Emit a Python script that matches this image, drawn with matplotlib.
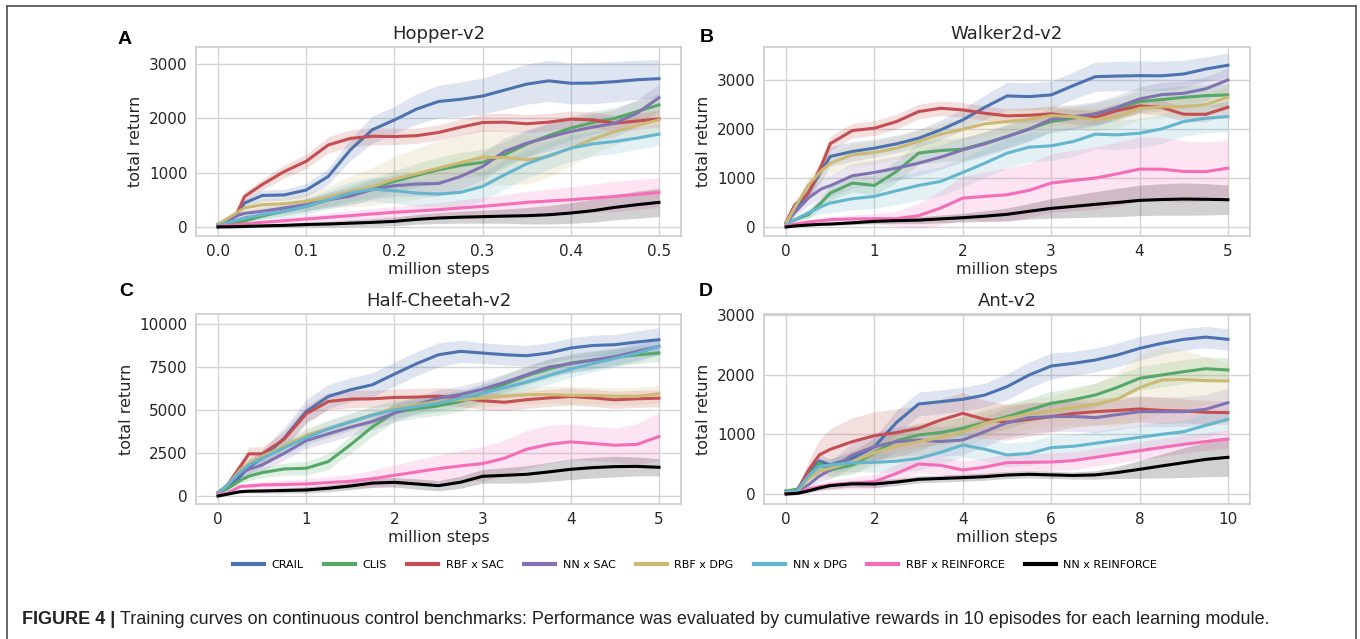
import matplotlib

matplotlib.use("Agg")
import matplotlib.pyplot as plt
from matplotlib.lines import Line2D

plt.rcParams["font.family"] = "DejaVu Sans"

# ---- series names / colours (legend order) ----
labels = ["CRAIL", "CLIS", "RBF x SAC", "NN x SAC", "RBF x DPG", "NN x DPG",
          "RBF x REINFORCE", "NN x REINFORCE"]
colors = ["#4C72B0", "#55A868", "#C44E52", "#8172B2", "#CCB974", "#64B5CD",
          "#F56DB8", "#000000"]

# ---- A: Hopper-v2 ----
hop_x = [0, 0.02, 0.03, 0.05, 0.075, 0.1, 0.125, 0.15, 0.175, 0.2, 0.225, 0.25,
         0.275, 0.3, 0.325, 0.35, 0.375, 0.4, 0.425, 0.45, 0.475, 0.5]
hop_crail = [0, 200, 440, 580, 590, 680, 930, 1420, 1790, 1970, 2170, 2310,
             2350, 2410, 2520, 2630, 2690, 2645, 2650, 2675, 2710, 2730]
hop_clis = [50, 80, 110, 200, 290, 380, 500, 620, 716, 840, 950, 1053,
            1133, 1190, 1330, 1525, 1684, 1820, 1923, 2000, 2125, 2247]
hop_rbf_sac = [30, 200, 560, 780, 1020, 1210, 1510, 1630, 1670, 1665, 1680, 1740,
               1837, 1923, 1930, 1900, 1930, 1985, 1970, 1910, 1950, 1990]
hop_nn_sac = [50, 200, 250, 290, 350, 410, 500, 570, 690, 760, 790, 800,
              930, 1114, 1390, 1543, 1653, 1757, 1837, 1910, 2094, 2380]
hop_rbf_dpg = [50, 250, 350, 410, 430, 471, 550, 655, 747, 882, 980, 1084,
               1188, 1280, 1280, 1237, 1298, 1451, 1617, 1757, 1868, 1972]
hop_nn_dpg = [30, 120, 170, 227, 290, 380, 502, 625, 698, 667, 625, 606,
              637, 747, 961, 1163, 1310, 1451, 1531, 1574, 1635, 1708]
hop_rbf_rf = [10, 40, 55, 86, 115, 147, 178, 208, 240, 270, 295, 318,
              350, 380, 415, 453, 478, 502, 530, 563, 600, 637]
hop_nn_rf = [0, 5, 10, 20, 30, 45, 55, 70, 85, 104, 140, 165,
             180, 190, 200, 208, 225, 257, 300, 361, 410, 453]
hop_crail_sd = [30, 60, 80, 100, 100, 120, 150, 200, 250, 250, 280, 300,
                320, 330, 350, 370, 380, 380, 380, 370, 360, 350]
hop_clis_sd = [20, 30, 40, 60, 80, 100, 120, 150, 180, 200, 220, 230,
               240, 240, 240, 240, 230, 220, 210, 200, 200, 200]
hop_rbf_sac_sd = [30, 60, 80, 100, 120, 130, 150, 160, 160, 150, 140, 140,
                  150, 160, 170, 170, 160, 150, 150, 150, 150, 150]
hop_nn_sac_sd = [20, 50, 60, 80, 100, 120, 140, 160, 180, 200, 220, 230,
                 240, 250, 250, 250, 250, 250, 250, 250, 250, 250]
hop_rbf_dpg_sd = [20, 60, 80, 100, 120, 150, 200, 280, 350, 420, 470, 500,
                  520, 520, 500, 450, 380, 320, 280, 250, 230, 220]
hop_nn_dpg_sd = [20, 40, 60, 80, 120, 150, 180, 200, 220, 230, 240, 250,
                 260, 270, 270, 260, 250, 240, 230, 220, 210, 200]
hop_rbf_rf_sd = [10, 20, 30, 40, 60, 70, 80, 90, 100, 110, 120, 130,
                 150, 160, 180, 200, 220, 240, 260, 280, 280, 270]
hop_nn_rf_sd = [5, 10, 15, 20, 30, 40, 50, 60, 70, 80, 90, 100,
                110, 120, 130, 150, 170, 190, 210, 230, 250, 260]

# ---- B: Walker2d-v2 ----
wal_x = [0, 0.1, 0.25, 0.4, 0.5, 0.75, 1.0, 1.25, 1.5, 1.75, 2.0, 2.25,
         2.5, 2.75, 3.0, 3.25, 3.5, 3.75, 4.0, 4.25, 4.5, 4.75, 5.0]
wal_crail = [80, 350, 700, 1150, 1439, 1541, 1609, 1697, 1812, 1982, 2185, 2443,
             2674, 2661, 2695, 2885, 3068, 3080, 3088, 3085, 3122, 3224, 3300]
wal_clis = [80, 150, 250, 500, 692, 896, 848, 1133, 1507, 1561, 1588, 1710,
            1846, 2002, 2152, 2220, 2308, 2403, 2559, 2600, 2647, 2680, 2695]
wal_rbf_sac = [100, 455, 680, 1250, 1700, 1968, 2016, 2152, 2355, 2423, 2389, 2321,
               2267, 2280, 2308, 2250, 2240, 2376, 2471, 2440, 2301, 2300, 2443]
wal_nn_sac = [80, 300, 590, 780, 842, 1045, 1113, 1201, 1303, 1425, 1575, 1697,
              1846, 1995, 2199, 2250, 2308, 2443, 2613, 2700, 2729, 2820, 3000]
wal_rbf_dpg = [80, 400, 850, 1150, 1303, 1473, 1520, 1609, 1744, 1894, 1995, 2104,
               2152, 2199, 2274, 2250, 2186, 2253, 2423, 2450, 2457, 2500, 2647]
wal_nn_dpg = [50, 150, 285, 420, 489, 577, 624, 740, 848, 930, 1113, 1303,
              1507, 1629, 1656, 1744, 1894, 1880, 1914, 2002, 2152, 2220, 2253]
wal_rbf_rf = [20, 60, 100, 130, 149, 165, 170, 170, 231, 387, 590, 624,
              658, 747, 896, 950, 998, 1086, 1181, 1180, 1133, 1130, 1201]
wal_nn_rf = [0, 20, 40, 55, 60, 85, 115, 130, 140, 165, 190, 220,
             258, 320, 380, 420, 462, 500, 543, 560, 570, 565, 556]
wal_crail_sd = [20, 80, 150, 200, 200, 200, 180, 180, 180, 200, 220, 250,
                280, 280, 280, 280, 300, 300, 300, 300, 280, 250, 250]
wal_clis_sd = [20, 50, 80, 120, 150, 180, 200, 220, 230, 230, 230, 230,
               230, 230, 230, 230, 230, 230, 230, 230, 230, 230, 230]
wal_rbf_sac_sd = [20, 80, 120, 150, 150, 150, 150, 150, 150, 150, 150, 150,
                  150, 150, 150, 150, 150, 150, 150, 150, 150, 150, 150]
wal_nn_sac_sd = [20, 80, 150, 200, 220, 250, 250, 250, 250, 250, 250, 250,
                 250, 250, 250, 250, 250, 250, 250, 250, 250, 250, 250]
wal_rbf_dpg_sd = [20, 80, 150, 200, 220, 230, 230, 230, 230, 230, 230, 230,
                  230, 230, 230, 230, 230, 230, 230, 230, 230, 230, 230]
wal_nn_dpg_sd = [20, 50, 100, 150, 200, 230, 250, 280, 300, 300, 300, 300,
                 300, 300, 300, 300, 300, 300, 300, 300, 300, 300, 300]
wal_rbf_rf_sd = [10, 30, 50, 60, 70, 80, 100, 150, 250, 350, 450, 500,
                 550, 550, 600, 620, 640, 650, 650, 650, 630, 600, 580]
wal_nn_rf_sd = [5, 10, 20, 25, 30, 40, 50, 60, 70, 80, 90, 110,
                130, 160, 200, 230, 260, 290, 310, 320, 330, 320, 300]

# ---- C: Half-Cheetah-v2 ----
che_x = [0, 0.1, 0.25, 0.35, 0.5, 0.75, 1.0, 1.25, 1.5, 1.75, 2.0, 2.25,
         2.5, 2.75, 3.0, 3.25, 3.5, 3.75, 4.0, 4.25, 4.5, 4.75, 5.0]
che_crail = [200, 500, 1126, 1700, 2194, 3359, 4913, 5786, 6175, 6466, 7087, 7689,
             8213, 8408, 8311, 8213, 8155, 8311, 8602, 8750, 8796, 8950, 9087]
che_clis = [200, 400, 900, 1150, 1359, 1573, 1612, 2000, 2971, 4019, 4854, 5068,
            5243, 5495, 5981, 6505, 6990, 7379, 7728, 7900, 8078, 8200, 8311]
che_rbf_sac = [200, 600, 1700, 2450, 2450, 3301, 4777, 5495, 5631, 5650, 5728, 5750,
               5800, 5700, 5534, 5450, 5600, 5700, 5786, 5700, 5592, 5650, 5689]
che_nn_sac = [200, 600, 1300, 1550, 1806, 2485, 3223, 3612, 4000, 4330, 4816, 5301,
              5689, 5903, 6214, 6602, 7049, 7500, 7689, 7900, 8100, 8400, 8699]
che_rbf_dpg = [200, 600, 1500, 1900, 2291, 2913, 3534, 3903, 4311, 4718, 5107, 5300,
               5495, 5600, 5689, 5800, 5883, 5900, 5850, 5850, 5800, 5800, 5942]
che_nn_dpg = [200, 600, 1400, 1800, 2194, 2800, 3398, 3900, 4311, 4700, 5010, 5200,
              5398, 5700, 5981, 6300, 6621, 7000, 7379, 7700, 8000, 8300, 8700]
che_rbf_rf = [100, 150, 550, 580, 641, 670, 699, 780, 854, 1000, 1204, 1400,
              1592, 1750, 1883, 2200, 2718, 3000, 3146, 3050, 2951, 3000, 3456]
che_nn_rf = [0, 100, 250, 280, 291, 320, 350, 450, 583, 750, 796, 700,
             602, 800, 1146, 1200, 1262, 1400, 1553, 1650, 1709, 1720, 1670]
che_crail_sd = [50, 150, 300, 400, 500, 600, 700, 700, 700, 700, 700, 700,
                700, 650, 600, 600, 600, 600, 600, 600, 600, 650, 700]
che_clis_sd = [50, 100, 200, 250, 300, 350, 400, 450, 500, 550, 550, 550,
               550, 550, 550, 550, 550, 550, 550, 550, 500, 500, 500]
che_rbf_sac_sd = [50, 150, 300, 400, 400, 450, 500, 500, 500, 500, 500, 500,
                  500, 500, 500, 500, 500, 500, 500, 500, 500, 500, 500]
che_nn_sac_sd = [50, 150, 250, 300, 350, 400, 450, 500, 500, 500, 500, 500,
                 500, 500, 500, 500, 500, 500, 500, 500, 500, 500, 500]
che_rbf_dpg_sd = [50, 150, 250, 300, 350, 400, 450, 500, 500, 500, 500, 500,
                  500, 500, 500, 500, 500, 500, 500, 500, 500, 500, 500]
che_nn_dpg_sd = [50, 150, 250, 300, 350, 400, 450, 500, 500, 500, 500, 500,
                 500, 500, 500, 500, 500, 500, 500, 500, 500, 500, 500]
che_rbf_rf_sd = [50, 80, 150, 180, 200, 250, 300, 350, 400, 500, 600, 700,
                 800, 900, 1000, 1050, 1100, 1100, 1050, 1000, 1000, 1200, 1400]
che_nn_rf_sd = [20, 50, 80, 100, 120, 150, 180, 200, 220, 250, 280, 300,
                300, 350, 400, 450, 500, 550, 600, 600, 600, 550, 500]

# ---- D: Ant-v2 ----
ant_x = [0, 0.25, 0.5, 0.75, 1.0, 1.5, 2.0, 2.5, 3.0, 3.5, 4.0, 4.5,
         5.0, 5.5, 6.0, 6.5, 7.0, 7.5, 8.0, 8.5, 9.0, 9.5, 10.0]
ant_crail = [50, 60, 350, 553, 486, 598, 793, 1200, 1508, 1547, 1587, 1659,
             1799, 1994, 2145, 2190, 2246, 2330, 2441, 2525, 2592, 2630, 2592]
ant_clis = [50, 80, 300, 514, 402, 486, 693, 894, 989, 1030, 1101, 1196,
            1296, 1408, 1520, 1580, 1659, 1788, 1939, 1994, 2050, 2100, 2078]
ant_rbf_sac = [20, 50, 391, 654, 749, 877, 978, 1028, 1101, 1240, 1352, 1250,
               1201, 1250, 1296, 1350, 1380, 1400, 1425, 1400, 1391, 1370, 1363]
ant_nn_sac = [30, 40, 150, 300, 402, 654, 793, 877, 905, 880, 905, 1045,
              1196, 1280, 1296, 1300, 1279, 1330, 1380, 1380, 1380, 1420, 1531]
ant_rbf_dpg = [30, 40, 250, 380, 430, 542, 693, 804, 877, 950, 1045, 1184,
               1268, 1341, 1391, 1450, 1503, 1592, 1782, 1911, 1920, 1900, 1894]
ant_nn_dpg = [30, 50, 300, 458, 486, 525, 530, 550, 598, 698, 821, 749,
              654, 680, 777, 800, 849, 900, 950, 1000, 1045, 1150, 1251]
ant_rbf_rf = [0, 10, 80, 120, 151, 180, 207, 346, 503, 480, 402, 450,
              525, 530, 536, 560, 615, 670, 726, 780, 832, 880, 922]
ant_nn_rf = [0, 10, 50, 100, 140, 170, 168, 200, 246, 260, 274, 290,
             318, 330, 320, 310, 320, 360, 413, 470, 525, 580, 615]
ant_crail_sd = [20, 30, 80, 120, 100, 120, 150, 200, 200, 200, 200, 200,
                220, 220, 220, 200, 200, 200, 200, 180, 180, 180, 180]
ant_clis_sd = [20, 30, 80, 100, 120, 150, 170, 180, 200, 200, 200, 200,
               200, 200, 200, 200, 200, 200, 200, 200, 200, 200, 200]
ant_rbf_sac_sd = [10, 30, 150, 250, 350, 400, 400, 400, 380, 350, 350, 320,
                  300, 280, 250, 230, 220, 220, 220, 220, 200, 200, 200]
ant_nn_sac_sd = [10, 20, 60, 100, 150, 200, 230, 250, 250, 250, 250, 250,
                 250, 250, 250, 250, 250, 250, 250, 250, 250, 250, 250]
ant_rbf_dpg_sd = [10, 20, 60, 100, 150, 200, 220, 250, 250, 250, 250, 250,
                  250, 250, 250, 300, 350, 450, 550, 550, 500, 400, 300]
ant_nn_dpg_sd = [10, 20, 80, 100, 120, 150, 170, 180, 200, 200, 200, 200,
                 200, 200, 200, 200, 200, 200, 200, 200, 200, 200, 200]
ant_rbf_rf_sd = [10, 20, 40, 60, 80, 100, 120, 150, 150, 150, 150, 150,
                 150, 150, 150, 150, 150, 150, 150, 150, 150, 150, 150]
ant_nn_rf_sd = [10, 15, 30, 40, 50, 55, 60, 60, 60, 60, 60, 60,
                60, 60, 60, 60, 70, 100, 150, 200, 250, 290, 320]

panels = [
    dict(letter="A", title="Hopper-v2", x=hop_x,
         means=[hop_crail, hop_clis, hop_rbf_sac, hop_nn_sac, hop_rbf_dpg, hop_nn_dpg, hop_rbf_rf, hop_nn_rf],
         sds=[hop_crail_sd, hop_clis_sd, hop_rbf_sac_sd, hop_nn_sac_sd, hop_rbf_dpg_sd, hop_nn_dpg_sd,
              hop_rbf_rf_sd, hop_nn_rf_sd],
         xticks=[0, 0.1, 0.2, 0.3, 0.4, 0.5], xlim=(-0.025, 0.525),
         yticks=[0, 1000, 2000, 3000], ylim=(-166, 3313),
         pos=(196, 47, 681, 236), lpos=(125, 39)),
    dict(letter="B", title="Walker2d-v2", x=wal_x,
         means=[wal_crail, wal_clis, wal_rbf_sac, wal_nn_sac, wal_rbf_dpg, wal_nn_dpg, wal_rbf_rf, wal_nn_rf],
         sds=[wal_crail_sd, wal_clis_sd, wal_rbf_sac_sd, wal_nn_sac_sd, wal_rbf_dpg_sd, wal_nn_dpg_sd,
              wal_rbf_rf_sd, wal_nn_rf_sd],
         xticks=[0, 1, 2, 3, 4, 5], xlim=(-0.25, 5.25),
         yticks=[0, 1000, 2000, 3000], ylim=(-184, 3673),
         pos=(764, 47, 1250, 236), lpos=(707, 38)),
    dict(letter="C", title="Half-Cheetah-v2", x=che_x,
         means=[che_crail, che_clis, che_rbf_sac, che_nn_sac, che_rbf_dpg, che_nn_dpg, che_rbf_rf, che_nn_rf],
         sds=[che_crail_sd, che_clis_sd, che_rbf_sac_sd, che_nn_sac_sd, che_rbf_dpg_sd, che_nn_dpg_sd,
              che_rbf_rf_sd, che_nn_rf_sd],
         xticks=[0, 1, 2, 3, 4, 5], xlim=(-0.25, 5.25),
         yticks=[0, 2500, 5000, 7500, 10000], ylim=(-465, 10580),
         pos=(196, 314, 681, 504), lpos=(126, 291)),
    dict(letter="D", title="Ant-v2", x=ant_x,
         means=[ant_crail, ant_clis, ant_rbf_sac, ant_nn_sac, ant_rbf_dpg, ant_nn_dpg, ant_rbf_rf, ant_nn_rf],
         sds=[ant_crail_sd, ant_clis_sd, ant_rbf_sac_sd, ant_nn_sac_sd, ant_rbf_dpg_sd, ant_nn_dpg_sd,
              ant_rbf_rf_sd, ant_nn_rf_sd],
         xticks=[0, 2, 4, 6, 8, 10], xlim=(-0.5, 10.5),
         yticks=[0, 1000, 2000, 3000], ylim=(-168, 3017),
         pos=(764, 314, 1250, 504), lpos=(706, 291)),
]

W, H = 1360, 639
fig = plt.figure(figsize=(W / 100, H / 100), dpi=100)
fig.patch.set_facecolor("white")

for p in panels:
    x0, y0, x1, y1 = p["pos"]
    ax = fig.add_axes([x0 / W, 1 - y1 / H, (x1 - x0) / W, (y1 - y0) / H])
    ax.set_facecolor("white")
    ax.grid(True, color="#d4d4d4", lw=1)
    ax.set_axisbelow(True)
    for s in ax.spines.values():
        s.set_color("#cccccc")
        s.set_linewidth(1.2)
    xs = p["x"]
    for m, sd, c in zip(p["means"], p["sds"], colors):
        lo = [a - b for a, b in zip(m, sd)]
        hi = [a + b for a, b in zip(m, sd)]
        ax.fill_between(xs, lo, hi, color=c, alpha=0.18, lw=0)
    for m, c, lab in zip(p["means"], colors, labels):
        ax.plot(xs, m, color=c, lw=2.2, label=lab)
    ax.set_xticks(p["xticks"])
    ax.set_yticks(p["yticks"])
    ax.set_xlim(*p["xlim"])
    ax.set_ylim(*p["ylim"])
    ax.tick_params(length=0, pad=6, labelsize=11, labelcolor="#262626")
    ax.set_title(p["title"], fontsize=13, color="#262626", pad=6)
    ax.set_xlabel("million steps", fontsize=11.5, color="#262626", labelpad=2)
    ax.set_ylabel("total return", fontsize=11.5, color="#262626")
    fig.text(p["lpos"][0] / W, 1 - p["lpos"][1] / H, p["letter"], ha="center", va="center",
             fontsize=14, fontweight="bold", family="Liberation Sans")

handles = [Line2D([], [], color=c, lw=3) for c in colors]
fig.legend(handles, labels, loc="center", bbox_to_anchor=(695 / W, 1 - 565 / H), ncol=8,
           frameon=False, fontsize=8, handlelength=2.8, columnspacing=1.8, handletextpad=0.7)

# outer frame (open at bottom)
frame_kw = dict(transform=fig.transFigure, color="#5a5a5a", lw=1.3)
fig.add_artist(Line2D([7 / W, 7 / W], [0, 1 - 6 / H], **frame_kw))
fig.add_artist(Line2D([1356 / W, 1356 / W], [0, 1 - 6 / H], **frame_kw))
fig.add_artist(Line2D([7 / W, 1356 / W], [1 - 6 / H, 1 - 6 / H], **frame_kw))

# caption
cap_fam = ["Liberation Sans Narrow", "Liberation Sans"]
t1 = fig.text(22 / W, 1 - 619 / H, "FIGURE 4 |", fontsize=13, fontweight="bold",
              family=cap_fam, va="center", color="#222222")
fig.canvas.draw()
bb = t1.get_window_extent()
fig.text((bb.x1 + 5) / W, 1 - 619 / H,
         "Training curves on continuous control benchmarks: Performance was evaluated by "
         "cumulative rewards in 10 episodes for each learning module.",
         fontsize=13, family=cap_fam, va="center", color="#222222")

fig.savefig("out.png", dpi=100, facecolor="white")
